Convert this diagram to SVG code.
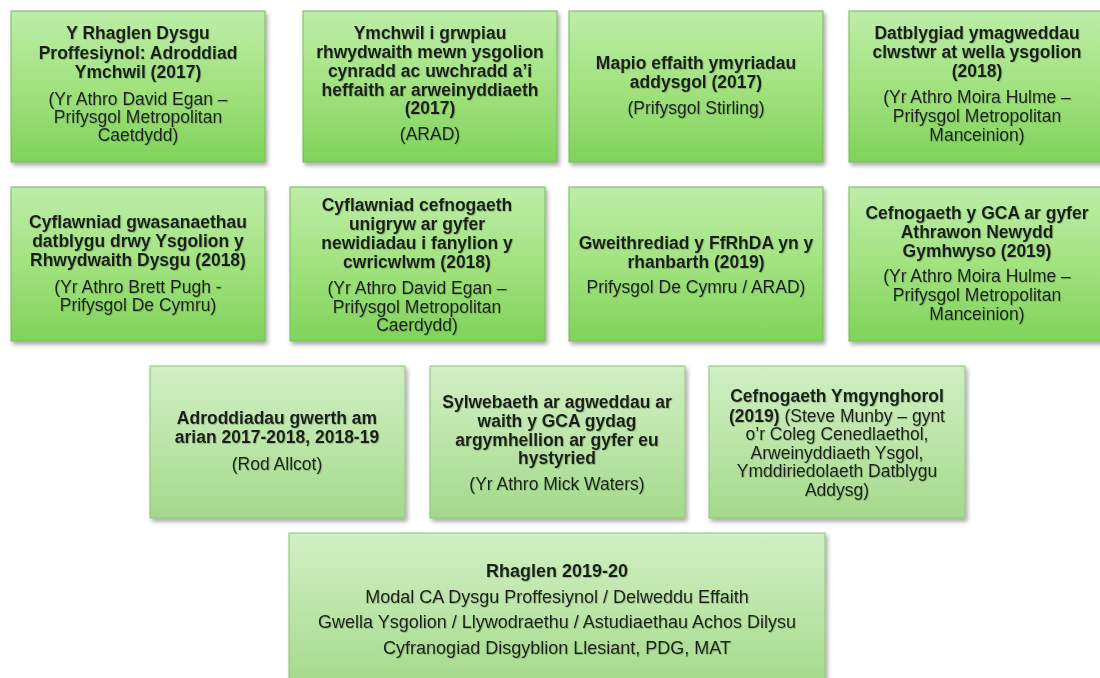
<svg xmlns="http://www.w3.org/2000/svg" width="1100" height="678" viewBox="0 0 1100 678">
<defs>
<linearGradient id="gA" x1="0" y1="0" x2="0" y2="1">
<stop offset="0" stop-color="#bdeda8"/>
<stop offset="0.5" stop-color="#a2e27f"/>
<stop offset="1" stop-color="#7fd35a"/>
</linearGradient>
<linearGradient id="gB" x1="0" y1="0" x2="0" y2="1">
<stop offset="0" stop-color="#d0efc4"/>
<stop offset="0.5" stop-color="#bce5a8"/>
<stop offset="1" stop-color="#a3d98a"/>
</linearGradient>
<filter id="sh" x="-5%" y="-5%" width="112%" height="115%">
<feDropShadow dx="2" dy="3" stdDeviation="2" flood-color="#000" flood-opacity="0.35"/>
</filter>
<filter id="ts" x="-5%" y="-20%" width="110%" height="150%">
<feDropShadow dx="0.8" dy="0.8" stdDeviation="0.6" flood-color="#4a7a30" flood-opacity="0.45"/>
</filter>
</defs>
<style>
.boxA{fill:url(#gA);stroke:#76b85a;stroke-width:1}
.boxB{fill:url(#gB);stroke:#8fc27a;stroke-width:1}
text{font-family:"Liberation Sans",Arial,sans-serif;font-size:17.5px;fill:#1e1e1e;text-anchor:middle}
.b{font-weight:bold}
.t{filter:url(#ts)}
.big text{font-size:18px}
</style>
<rect width="1100" height="678" fill="#ffffff"/>
<g id="connectors"></g>

<g id="n1">
<rect class="boxA" x="11" y="11" width="254" height="151" filter="url(#sh)"/>
<g class="t">
<text class="b" x="138" y="39">Y Rhaglen Dysgu</text>
<text class="b" x="138" y="59">Proffesiynol: Adroddiad</text>
<text class="b" x="138" y="78">Ymchwil (2017)</text>
<text x="138" y="105">(Yr Athro David Egan –</text>
<text x="138" y="123">Prifysgol Metropolitan</text>
<text x="138" y="141">Caetdydd)</text>
</g>
</g>

<g id="n2">
<rect class="boxA" x="303" y="11" width="254" height="151" filter="url(#sh)"/>
<g class="t">
<text class="b" x="430" y="39">Ymchwil i grwpiau</text>
<text class="b" x="430" y="58">rhwydwaith mewn ysgolion</text>
<text class="b" x="430" y="77">cynradd ac uwchradd a’i</text>
<text class="b" x="430" y="96">heffaith ar arweinyddiaeth</text>
<text class="b" x="430" y="114">(2017)</text>
<text x="430" y="140">(ARAD)</text>
</g>
</g>

<g id="n3">
<rect class="boxA" x="569" y="11" width="254" height="151" filter="url(#sh)"/>
<g class="t">
<text class="b" x="696" y="69">Mapio effaith ymyriadau</text>
<text class="b" x="696" y="88">addysgol (2017)</text>
<text x="696" y="114">(Prifysgol Stirling)</text>
</g>
</g>

<g id="n4">
<rect class="boxA" x="849" y="11" width="256" height="151" filter="url(#sh)"/>
<g class="t">
<text class="b" x="977" y="39">Datblygiad ymagweddau</text>
<text class="b" x="977" y="58">clwstwr at wella ysgolion</text>
<text class="b" x="977" y="77">(2018)</text>
<text x="977" y="103">(Yr Athro Moira Hulme –</text>
<text x="977" y="122">Prifysgol Metropolitan</text>
<text x="977" y="141">Manceinion)</text>
</g>
</g>

<g id="n5">
<rect class="boxA" x="11" y="187" width="254" height="154" filter="url(#sh)"/>
<g class="t">
<text class="b" x="138" y="228">Cyflawniad gwasanaethau</text>
<text class="b" x="138" y="247">datblygu drwy Ysgolion y</text>
<text class="b" x="138" y="266">Rhwydwaith Dysgu (2018)</text>
<text x="138" y="293">(Yr Athro Brett Pugh -</text>
<text x="138" y="311">Prifysgol De Cymru)</text>
</g>
</g>

<g id="n6">
<rect class="boxA" x="290" y="187" width="255" height="154" filter="url(#sh)"/>
<g class="t">
<text class="b" x="417" y="211">Cyflawniad cefnogaeth</text>
<text class="b" x="417" y="230">unigryw ar gyfer</text>
<text class="b" x="417" y="249">newidiadau i fanylion y</text>
<text class="b" x="417" y="268">cwricwlwm  (2018)</text>
<text x="417" y="294">(Yr Athro David Egan –</text>
<text x="417" y="313">Prifysgol Metropolitan</text>
<text x="417" y="331">Caerdydd)</text>
</g>
</g>

<g id="n7">
<rect class="boxA" x="569" y="187" width="254" height="154" filter="url(#sh)"/>
<g class="t">
<text class="b" x="696" y="249">Gweithrediad y FfRhDA yn y</text>
<text class="b" x="696" y="268">rhanbarth (2019)</text>
<text x="696" y="293">Prifysgol De Cymru / ARAD)</text>
</g>
</g>

<g id="n8">
<rect class="boxA" x="849" y="187" width="256" height="154" filter="url(#sh)"/>
<g class="t">
<text class="b" x="977" y="219">Cefnogaeth y GCA ar gyfer</text>
<text class="b" x="977" y="238">Athrawon Newydd</text>
<text class="b" x="977" y="257">Gymhwyso (2019)</text>
<text x="977" y="282">(Yr Athro Moira Hulme –</text>
<text x="977" y="301">Prifysgol Metropolitan</text>
<text x="977" y="320">Manceinion)</text>
</g>
</g>

<g id="n9">
<rect class="boxB" x="150" y="366" width="255" height="152" filter="url(#sh)"/>
<g class="t">
<text class="b" x="277" y="424">Adroddiadau gwerth am</text>
<text class="b" x="277" y="443">arian 2017-2018, 2018-19</text>
<text x="277" y="470">(Rod Allcot)</text>
</g>
</g>

<g id="n10">
<rect class="boxB" x="430" y="366" width="255" height="152" filter="url(#sh)"/>
<g class="t">
<text class="b" x="557" y="408">Sylwebaeth ar agweddau ar</text>
<text class="b" x="557" y="427">waith y GCA gydag</text>
<text class="b" x="557" y="446">argymhellion ar gyfer eu</text>
<text class="b" x="557" y="464">hystyried</text>
<text x="557" y="490">(Yr Athro Mick Waters)</text>
</g>
</g>

<g id="n11">
<rect class="boxB" x="709" y="366" width="256" height="152" filter="url(#sh)"/>
<g class="t">
<text class="b" x="837" y="402">Cefnogaeth Ymgynghorol</text>
<text x="837" y="422"><tspan class="b">(2019)</tspan> (Steve Munby – gynt</text>
<text x="837" y="440">o’r Coleg Cenedlaethol,</text>
<text x="837" y="459">Arweinyddiaeth Ysgol,</text>
<text x="837" y="477">Ymddiriedolaeth Datblygu</text>
<text x="837" y="496">Addysg)</text>
</g>
</g>

<g id="n12">
<rect class="boxB" x="289" y="533" width="536" height="155" filter="url(#sh)"/>
<g class="t big">
<text class="b" x="557" y="577">Rhaglen 2019-20</text>
<text x="557" y="603">Modal CA Dysgu Proffesiynol / Delweddu Effaith</text>
<text x="557" y="628">Gwella Ysgolion / Llywodraethu / Astudiaethau Achos Dilysu</text>
<text x="557" y="654">Cyfranogiad Disgyblion Llesiant, PDG, MAT</text>
</g>
</g>
</svg>
